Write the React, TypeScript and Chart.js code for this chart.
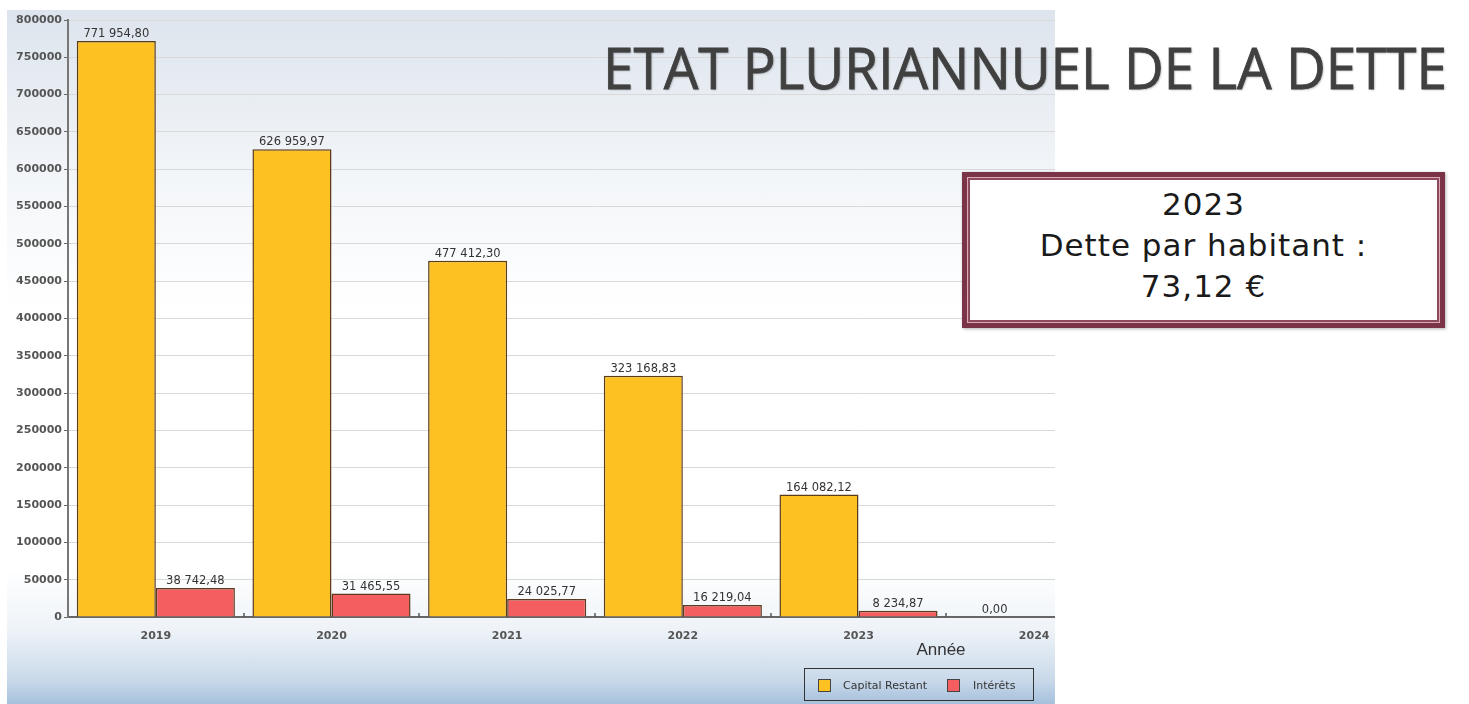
import React, { useEffect, useRef } from "react";
import { Chart, registerables } from "chart.js";

Chart.register(...registerables);

const years = ["2019", "2020", "2021", "2022", "2023", "2024"];
const capitalRestant = [771954.8, 626959.97, 477412.3, 323168.83, 164082.12, 0.0];
const interets = [38742.48, 31465.55, 24025.77, 16219.04, 8234.87, 0.0];
const seriesLabels = ["Capital Restant", "Intérêts"];
const seriesColors = ["#FDC121", "#F55E61"];
const yMax = 800000;
const yStep = 50000;
const xAxisTitle = "Année";
const pageTitle = "ETAT PLURIANNUEL DE LA DETTE";
const infoLines = ["2023", "Dette par habitant :", "73,12 €"];

function fmt(v: number): string {
  const [i, d] = v.toFixed(2).split(".");
  return i.replace(/\B(?=(\d{3})+(?!\d))/g, " ") + "," + d;
}

const overlayPlugin = {
  id: "overlayPlugin",
  afterDatasetsDraw(chart: any) {
    const ctx = chart.ctx;
    ctx.save();
    ctx.font = "11.5px 'DejaVu Sans'";
    ctx.fillStyle = "#333";
    ctx.textAlign = "center";
    ctx.textBaseline = "alphabetic";
    chart.data.datasets.forEach((ds: any, di: number) => {
      const meta = chart.getDatasetMeta(di);
      meta.data.forEach((el: any, i: number) => {
        ctx.fillText(fmt(ds.data[i] as number), el.x, el.y - 4);
      });
    });
    const xs = chart.scales.x;
    const ca = chart.chartArea;
    ctx.strokeStyle = "#555";
    ctx.lineWidth = 1.5;
    for (let i = 0; i < years.length - 1; i++) {
      const bx = Math.round((xs.getPixelForValue(i) + xs.getPixelForValue(i + 1)) / 2);
      ctx.beginPath();
      ctx.moveTo(bx, ca.bottom - 4);
      ctx.lineTo(bx, ca.bottom);
      ctx.stroke();
    }
    ctx.restore();
  },
  afterDraw(chart: any) {
    const ctx = chart.ctx;
    ctx.save();
    ctx.font = "17px 'Liberation Sans'";
    ctx.fillStyle = "#333";
    ctx.textAlign = "center";
    ctx.textBaseline = "alphabetic";
    ctx.fillText(xAxisTitle, 934, 645);
    ctx.strokeStyle = "#333";
    ctx.lineWidth = 1;
    ctx.strokeRect(797.5, 658.5, 229, 32);
    const items = [
      { sq: 811, tx: 836 },
      { sq: 940, tx: 966 },
    ];
    ctx.font = "11px 'DejaVu Sans'";
    ctx.textAlign = "left";
    ctx.textBaseline = "middle";
    chart.data.datasets.forEach((ds: any, i: number) => {
      const it = items[i];
      ctx.fillStyle = ds.backgroundColor;
      ctx.fillRect(it.sq, 669, 12, 12);
      ctx.strokeStyle = "#444";
      ctx.strokeRect(it.sq + 0.5, 669.5, 12, 12);
      ctx.fillStyle = "#333";
      ctx.fillText(ds.label, it.tx, 676);
    });
    ctx.restore();
  },
};

export default function App() {
  const canvasRef = useRef<HTMLCanvasElement | null>(null);
  const titleRef = useRef<HTMLSpanElement | null>(null);

  useEffect(() => {
    const t = titleRef.current;
    if (t) {
      const w = t.getBoundingClientRect().width;
      if (w > 0) t.style.transform = `scaleX(${844 / w})`;
    }
    const canvas = canvasRef.current;
    if (!canvas) return;
    const chart = new Chart(canvas, {
      type: "bar",
      data: {
        labels: years,
        datasets: [
          {
            label: seriesLabels[0],
            data: capitalRestant,
            backgroundColor: seriesColors[0],
            borderColor: "#5a3b1c",
            borderWidth: 1.5,
            categoryPercentage: 0.9,
            barPercentage: 1.0,
          },
          {
            label: seriesLabels[1],
            data: interets,
            backgroundColor: seriesColors[1],
            borderColor: "#5a3b1c",
            borderWidth: 1.5,
            categoryPercentage: 0.9,
            barPercentage: 1.0,
          },
        ],
      },
      options: {
        animation: false,
        responsive: false,
        layout: { padding: { top: 10, right: 15, left: 0, bottom: 0 } },
        plugins: {
          legend: { display: false },
          tooltip: { enabled: false },
          title: { display: false },
        },
        scales: {
          x: {
            grid: { display: false },
            border: { display: true, color: "#666", width: 2 },
            ticks: {
              font: { family: "DejaVu Sans", size: 11, weight: "bold" },
              color: "#555",
              padding: 5,
            },
            afterFit: (s: any) => {
              s.height = 87;
            },
          },
          y: {
            min: 0,
            max: yMax,
            ticks: {
              stepSize: yStep,
              font: { family: "DejaVu Sans", size: 11, weight: "bold" },
              color: "#555",
              padding: 2,
              callback: (v: any) => String(v),
            },
            grid: { color: "#d9d9d9", lineWidth: 1, tickColor: "#666", tickLength: 4 },
            border: { display: true, color: "#777", width: 2 },
            afterFit: (s: any) => {
              s.width = 61;
            },
          },
        },
      },
      plugins: [overlayPlugin],
    });
    return () => chart.destroy();
  }, []);

  return (
    <div
      style={{
        position: "absolute",
        left: 0,
        top: 0,
        width: 1469,
        height: 704,
        overflow: "hidden",
        background: "#ffffff",
      }}
    >
      <div
        style={{
          position: "absolute",
          left: 7,
          top: 10,
          width: 1048,
          height: 694,
          overflow: "hidden",
          background:
            "linear-gradient(to bottom, #dde4ed 0px, #f3f6f9 170px, #ffffff 300px, #ffffff 560px, #eef3f8 620px, #c9d9ea 670px, #a5c0dc 694px)",
        }}
      >
        <canvas
          ref={canvasRef}
          width={1130}
          height={694}
          style={{ position: "absolute", left: 0, top: 0, width: 1130, height: 694 }}
        />
      </div>
      <div
        style={{
          position: "absolute",
          left: 603,
          top: 39,
          whiteSpace: "nowrap",
          fontFamily: "'Open Sans', sans-serif",
          fontWeight: 400,
          fontSize: 56,
          lineHeight: "56px",
          color: "#404040",
          WebkitTextStroke: "0.8px #404040",
          textShadow: "1px 1px 2px rgba(0,0,0,0.3)",
        }}
      >
        <span ref={titleRef} style={{ display: "inline-block", transformOrigin: "left top" }}>
          {pageTitle}
        </span>
      </div>
      <div
        style={{
          position: "absolute",
          left: 962,
          top: 172,
          width: 483,
          height: 156,
          boxSizing: "border-box",
          border: "5px solid #7b3447",
          padding: 1,
          background: "#dcaab7",
          boxShadow: "1px 1px 3px rgba(0,0,0,0.3)",
        }}
      >
        <div
          style={{
            boxSizing: "border-box",
            width: "100%",
            height: "100%",
            border: "2px solid #8d4a5c",
            background: "#ffffff",
            paddingTop: 4,
            textAlign: "center",
            fontFamily: "'DejaVu Sans', sans-serif",
            fontSize: 31,
            lineHeight: "41px",
            letterSpacing: 1,
            color: "#1a1a1a",
          }}
        >
          {infoLines.map((l, i) => (
            <div key={i}>{l}</div>
          ))}
        </div>
      </div>
    </div>
  );
}
